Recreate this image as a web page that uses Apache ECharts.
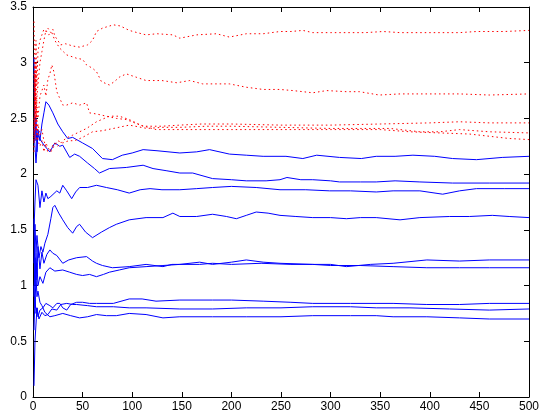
<!DOCTYPE html>
<html>
<head>
<meta charset="utf-8">
<script src="https://cdn.jsdelivr.net/npm/echarts@6/dist/echarts.min.js"></script>
<style>
  html, body { margin: 0; padding: 0; background: #fff; }
  #main { width: 549px; height: 416px; }
</style>
</head>
<body>
<div id="main"></div>
<script>
// tick labels
var xTicks = [0, 50, 100, 150, 200, 250, 300, 350, 400, 450, 500];
var yTicks = [0, 0.5, 1, 1.5, 2, 2.5, 3, 3.5];

// blue solid curves, [x, y]
var blueA = [[1,3.05],[2,2.3],[3,2.5],[4,2.2],[5,2.4],[7,2.3],[9,2.45],[11,2.55],[13,2.65],[16,2.62],[20,2.55],[25,2.45],[30,2.38],[35,2.32],[40,2.33],[50,2.28],[60,2.23],[70,2.14],[80,2.13],[90,2.17],[100,2.19],[111,2.22],[125,2.21],[148,2.19],[165,2.2],[178,2.22],[198,2.18],[215,2.17],[232,2.16],[255,2.16],[272,2.14],[286,2.17],[309,2.15],[331,2.14],[346,2.16],[365,2.16],[383,2.17],[405,2.16],[423,2.14],[447,2.13],[473,2.15],[500,2.16]];
var blueB = [[1,2.4],[3,2.1],[5,2.35],[8,2.3],[12,2.25],[17,2.2],[22,2.28],[27,2.25],[30,2.26],[37,2.15],[42,2.18],[47,2.16],[55,2.1],[62,2.05],[67,2.01],[77,2.05],[94,2.06],[111,2.08],[121,2.05],[135,2.03],[148,2.01],[161,2.01],[181,1.96],[200,1.95],[215,1.94],[235,1.94],[249,1.95],[256,1.97],[270,1.95],[282,1.95],[300,1.94],[309,1.93],[330,1.93],[346,1.93],[365,1.94],[390,1.93],[423,1.92],[460,1.92],[500,1.92]];
var blueC = [[1,1.5],[2,1.75],[3,1.95],[5,1.9],[7,1.7],[9,1.85],[11,1.75],[13,1.83],[15,1.78],[18,1.8],[20,1.8],[24,1.85],[27,1.83],[30,1.9],[34,1.85],[39,1.78],[43,1.84],[47,1.88],[55,1.88],[64,1.9],[74,1.88],[85,1.86],[97,1.83],[108,1.86],[118,1.87],[130,1.86],[148,1.86],[165,1.87],[181,1.88],[200,1.89],[225,1.88],[249,1.86],[275,1.86],[299,1.85],[320,1.85],[346,1.84],[363,1.85],[390,1.85],[413,1.82],[430,1.85],[447,1.87],[475,1.87],[500,1.87]];
var blueD = [[1,1.2],[2,1.55],[3,1.3],[4,1.45],[6,1.25],[8,1.35],[10,1.3],[12,1.38],[15,1.46],[18,1.6],[20,1.7],[22,1.72],[26,1.65],[30,1.59],[35,1.52],[40,1.47],[44,1.53],[47,1.55],[53,1.48],[60,1.43],[69,1.48],[77,1.52],[84,1.55],[97,1.59],[114,1.61],[131,1.61],[141,1.65],[148,1.62],[165,1.62],[181,1.64],[195,1.62],[205,1.6],[215,1.63],[225,1.66],[237,1.65],[249,1.63],[265,1.62],[282,1.61],[300,1.61],[316,1.6],[330,1.61],[346,1.61],[370,1.59],[390,1.61],[420,1.62],[440,1.62],[463,1.63],[480,1.62],[500,1.61]];
var blueE = [[1,1.6],[2,1.0],[3,1.3],[4,1.1],[5,1.35],[7,1.15],[9,1.3],[11,1.2],[14,1.28],[17,1.32],[20,1.29],[24,1.27],[30,1.2],[36,1.23],[44,1.25],[54,1.26],[60,1.22],[64,1.2],[70,1.18],[80,1.16],[97,1.17],[114,1.19],[131,1.17],[140,1.19],[148,1.19],[168,1.21],[181,1.19],[200,1.21],[215,1.23],[232,1.21],[249,1.2],[282,1.19],[300,1.19],[316,1.17],[340,1.19],[363,1.2],[397,1.23],[430,1.22],[460,1.23],[500,1.23]];
var blueF = [[1,0.9],[2,1.25],[3,1.05],[4,1.2],[5,1.0],[7,1.08],[10,1.02],[13,1.12],[17,1.16],[22,1.13],[30,1.14],[37,1.12],[44,1.1],[50,1.09],[57,1.1],[64,1.08],[71,1.1],[77,1.12],[87,1.14],[97,1.16],[114,1.17],[131,1.18],[148,1.19],[168,1.19],[181,1.2],[200,1.19],[230,1.2],[260,1.19],[282,1.19],[300,1.18],[330,1.18],[363,1.17],[397,1.16],[430,1.16],[460,1.16],[500,1.16]];
var blueG = [[1,0.1],[2,0.5],[3,0.5],[4,0.8],[5,0.72],[7,0.78],[10,0.8],[13,0.84],[17,0.82],[20,0.8],[24,0.84],[27,0.84],[30,0.8],[34,0.78],[38,0.83],[44,0.85],[50,0.85],[57,0.84],[64,0.84],[81,0.84],[97,0.88],[110,0.88],[124,0.86],[148,0.87],[181,0.87],[200,0.87],[232,0.86],[260,0.85],[282,0.84],[320,0.84],[363,0.84],[397,0.83],[430,0.83],[460,0.84],[500,0.84]];
var blueH = [[1,0.6],[2,0.9],[3,0.75],[4,0.8],[6,0.7],[9,0.76],[12,0.73],[15,0.74],[19,0.79],[24,0.78],[28,0.83],[34,0.84],[40,0.83],[44,0.83],[55,0.82],[64,0.81],[81,0.81],[97,0.8],[114,0.8],[148,0.79],[181,0.79],[215,0.8],[250,0.8],[282,0.81],[320,0.81],[346,0.8],[380,0.8],[420,0.79],[460,0.78],[500,0.79]];
var blueI = [[1,1.0],[2,0.8],[3,1.1],[4,0.9],[5,0.95],[7,0.85],[9,0.82],[12,0.76],[17,0.72],[22,0.73],[30,0.75],[38,0.73],[47,0.71],[55,0.72],[64,0.74],[74,0.73],[84,0.73],[97,0.75],[114,0.74],[131,0.71],[148,0.72],[181,0.72],[215,0.72],[250,0.72],[282,0.73],[320,0.73],[346,0.73],[363,0.72],[397,0.72],[430,0.71],[460,0.7],[500,0.7]];

// red dotted curves, [x, y]
var redA = [[1,3.37],[2,2.6],[3,3.0],[4,2.8],[5,3.1],[7,3.2],[9,3.25],[11,3.3],[13,3.28],[15,3.31],[18,3.27],[20,3.3],[22,3.24],[25,3.2],[28,3.16],[33,3.17],[40,3.15],[47,3.14],[55,3.16],[60,3.2],[64,3.28],[70,3.31],[81,3.34],[88,3.33],[97,3.29],[105,3.27],[114,3.25],[125,3.26],[141,3.25],[148,3.22],[165,3.25],[185,3.26],[198,3.23],[215,3.26],[232,3.26],[249,3.28],[260,3.28],[272,3.29],[282,3.27],[300,3.27],[316,3.27],[335,3.27],[353,3.28],[370,3.27],[390,3.27],[413,3.27],[430,3.27],[447,3.28],[475,3.28],[500,3.29]];
var redB = [[1,2.2],[2,2.9],[3,2.5],[4,2.7],[5,2.8],[7,3.0],[9,3.1],[11,3.2],[13,3.29],[16,3.25],[19,3.27],[22,3.2],[27,3.13],[34,3.07],[44,3.04],[50,3.03],[54,2.98],[60,2.95],[64,2.92],[69,2.83],[77,2.8],[82,2.83],[87,2.87],[94,2.9],[104,2.87],[114,2.84],[130,2.84],[145,2.82],[158,2.84],[171,2.81],[198,2.81],[215,2.78],[232,2.76],[249,2.76],[262,2.75],[282,2.73],[296,2.75],[316,2.74],[329,2.74],[349,2.71],[370,2.72],[400,2.72],[430,2.72],[460,2.71],[500,2.72]];
var redC = [[1,2.3],[2,3.0],[3,2.4],[4,2.6],[5,2.5],[7,2.7],[9,2.75],[11,2.8],[13,2.7],[15,2.85],[17,2.9],[19,2.98],[21,2.92],[24,2.74],[27,2.68],[30,2.62],[34,2.62],[40,2.64],[47,2.62],[54,2.64],[57,2.55],[64,2.54],[74,2.52],[84,2.5],[94,2.49],[108,2.44],[124,2.4],[145,2.4],[165,2.4],[200,2.4],[250,2.4],[300,2.4],[350,2.4],[380,2.38],[410,2.37],[440,2.36],[460,2.34],[480,2.32],[500,2.31]];
var redD = [[1,2.9],[2,2.4],[3,2.7],[4,2.3],[5,2.45],[7,2.35],[9,2.4],[11,2.3],[13,2.25],[15,2.2],[18,2.22],[21,2.28],[25,2.25],[30,2.3],[35,2.33],[40,2.35],[47,2.38],[54,2.41],[64,2.47],[77,2.52],[87,2.52],[97,2.49],[111,2.43],[130,2.43],[148,2.44],[170,2.45],[200,2.45],[250,2.44],[300,2.44],[350,2.45],[400,2.46],[430,2.47],[460,2.46],[500,2.46]];
var redE = [[1,2.5],[2,2.3],[3,3.2],[4,2.5],[5,2.3],[7,2.25],[9,2.3],[11,2.2],[13,2.28],[15,2.24],[18,2.2],[21,2.25],[25,2.3],[30,2.28],[36,2.3],[42,2.3],[50,2.33],[60,2.38],[70,2.39],[81,2.41],[97,2.44],[115,2.41],[130,2.42],[148,2.42],[175,2.43],[200,2.43],[250,2.42],[300,2.41],[330,2.41],[360,2.41],[390,2.38],[410,2.38],[430,2.4],[460,2.38],[500,2.37]];

var blues = [blueA, blueB, blueC, blueD, blueE, blueF, blueG, blueH, blueI];
var reds = [redA, redB, redC, redD, redE];

var myChart = echarts.init(document.getElementById('main'));

var series = [];
for (var i = 0; i < blues.length; i++) {
    series.push({
        type: 'line', data: blues[i], showSymbol: false, silent: true,
        lineStyle: { color: '#0000ff', width: 1 }
    });
}
for (var j = 0; j < reds.length; j++) {
    series.push({
        type: 'line', data: reds[j], showSymbol: false, silent: true,
        lineStyle: { color: '#ff0000', width: 1, type: [1.5, 3] }
    });
}

var axisLine = { show: true, onZero: false, lineStyle: { color: '#000', width: 1 } };
var axisTick = { show: true, inside: true, length: 5, lineStyle: { color: '#000' } };
var labelStyle = { color: '#000', fontFamily: 'Liberation Sans, Arial, sans-serif', fontSize: 12 };

var option = {
    animation: false,
    backgroundColor: '#fff',
    grid: { left: 33, right: 20, top: 7, bottom: 19 },
    xAxis: [
        { type: 'value', min: 0, max: 500, interval: 50, axisLine: axisLine, axisTick: axisTick,
          splitLine: { show: false }, axisLabel: Object.assign({ margin: 4 }, labelStyle) },
        { type: 'value', position: 'top', min: 0, max: 500, interval: 50, axisLine: axisLine, axisTick: axisTick,
          splitLine: { show: false }, axisLabel: { show: false } }
    ],
    yAxis: [
        { type: 'value', min: 0, max: 3.5, interval: 0.5, axisLine: axisLine, axisTick: axisTick,
          splitLine: { show: false }, axisLabel: Object.assign({ margin: 6 }, labelStyle) },
        { type: 'value', position: 'right', min: 0, max: 3.5, interval: 0.5, axisLine: axisLine, axisTick: axisTick,
          splitLine: { show: false }, axisLabel: { show: false } }
    ],
    series: series
};

myChart.setOption(option);
</script>
</body>
</html>
